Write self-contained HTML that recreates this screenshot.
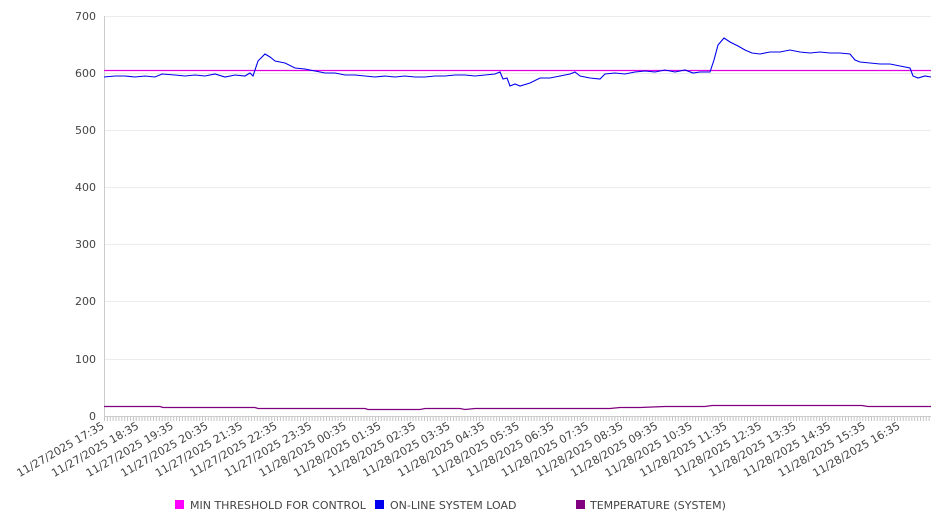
<!DOCTYPE html>
<html><head><meta charset="utf-8"><style>
body{margin:0;background:#fff;width:946px;height:526px;overflow:hidden;font-family:"DejaVu Sans","Liberation Sans",sans-serif}
text{fill:#444;font-family:"DejaVu Sans","Liberation Sans",sans-serif}
</style></head><body>
<svg width="946" height="526" viewBox="0 0 946 526">
<g stroke="#ececec" stroke-width="1">
<line x1="104" x2="931" y1="16.5" y2="16.5"/><line x1="104" x2="931" y1="73.5" y2="73.5"/>
<line x1="104" x2="931" y1="130.5" y2="130.5"/><line x1="104" x2="931" y1="187.5" y2="187.5"/>
<line x1="104" x2="931" y1="244.5" y2="244.5"/><line x1="104" x2="931" y1="301.5" y2="301.5"/>
<line x1="104" x2="931" y1="359.5" y2="359.5"/>
</g>
<line x1="104.5" x2="104.5" y1="16" y2="416" stroke="#ccc"/>
<line x1="104" x2="931" y1="416.5" y2="416.5" stroke="#ccc"/>
<g font-size="11" text-anchor="end">
<text x="96" y="20">700</text><text x="96" y="77">600</text><text x="96" y="134">500</text>
<text x="96" y="191">400</text><text x="96" y="248">300</text><text x="96" y="305">200</text>
<text x="96" y="363">100</text><text x="96" y="420">0</text>
</g>
<g id="ticks" stroke="#c4c4c4"></g>
<g id="labels" font-size="11" text-anchor="end"></g>
<line x1="104" x2="931" y1="70.5" y2="70.5" stroke="#e000e0" stroke-width="1.2"/>
<polyline fill="none" stroke="#0000ee" stroke-width="1.1" points="104,77 115,76 125,76 135,77 145,76 155,77 162,74 175,75 185,76 195,75 205,76 215,74 225,77 235,75 245,76 250,73 253,76 258,61 265,54 270,57 275,61 285,63 295,68 305,69 315,71 325,73 335,73 345,75 355,75 365,76 375,77 385,76 395,77 405,76 415,77 425,77 435,76 445,76 455,75 465,75 475,76 485,75 495,74 500,72 503,79 507,78 510,86 515,84 520,86 530,83 540,78 550,78 560,76 570,74 575,72 580,76 590,78 600,79 605,74 615,73 625,74 635,72 645,71 655,72 665,70 675,72 685,70 693,73 700,72 710,72 714,60 718,45 724,38 730,42 738,46 745,50 752,53 760,54 770,52 780,52 790,50 800,52 810,53 820,52 830,53 840,53 850,54 855,60 860,62 870,63 880,64 890,64 900,66 910,68 913,76 918,78 925,76 931,77"/>
<polyline fill="none" stroke="#800080" stroke-width="1.3" points="104,406.5 160,406.5 163,407.5 255,407.5 258,408.5 365,408.5 368,409.5 420,409.5 425,408.5 460,408.5 465,409.5 475,408.5 610,408.5 620,407.5 640,407.5 665,406.5 705,406.5 712,405.5 862,405.5 868,406.5 931,406.5"/>
<rect x="175" y="500" width="9" height="9" fill="#ff00ff"/>
<text x="190" y="509" font-size="11">MIN THRESHOLD FOR CONTROL</text>
<rect x="375" y="500" width="9" height="9" fill="#0000ee"/>
<text x="390" y="509" font-size="11">ON-LINE SYSTEM LOAD</text>
<rect x="576" y="500" width="9" height="9" fill="#800080"/>
<text x="590" y="509" font-size="11">TEMPERATURE (SYSTEM)</text>
</svg>
<script>
var ns="http://www.w3.org/2000/svg",t=document.getElementById("ticks"),l=document.getElementById("labels");
var sp=34.6,step=sp/12;
for(var i=0;;i++){var x=104.5+i*step;if(x>931)break;var e=document.createElementNS(ns,"line");e.setAttribute("x1",x);e.setAttribute("x2",x);e.setAttribute("y1",417);e.setAttribute("y2",421);t.appendChild(e);}
var hrs=["11/27/2025 17:35","11/27/2025 18:35","11/27/2025 19:35","11/27/2025 20:35","11/27/2025 21:35","11/27/2025 22:35","11/27/2025 23:35","11/28/2025 00:35","11/28/2025 01:35","11/28/2025 02:35","11/28/2025 03:35","11/28/2025 04:35","11/28/2025 05:35","11/28/2025 06:35","11/28/2025 07:35","11/28/2025 08:35","11/28/2025 09:35","11/28/2025 10:35","11/28/2025 11:35","11/28/2025 12:35","11/28/2025 13:35","11/28/2025 14:35","11/28/2025 15:35","11/28/2025 16:35"];
for(var j=0;j<hrs.length;j++){var x=104+j*sp+1,y=428;var s=document.createElementNS(ns,"text");s.setAttribute("x",x);s.setAttribute("y",y);s.setAttribute("transform","rotate(-30 "+x+" "+y+")");s.textContent=hrs[j];l.appendChild(s);}
</script>
</body></html>
